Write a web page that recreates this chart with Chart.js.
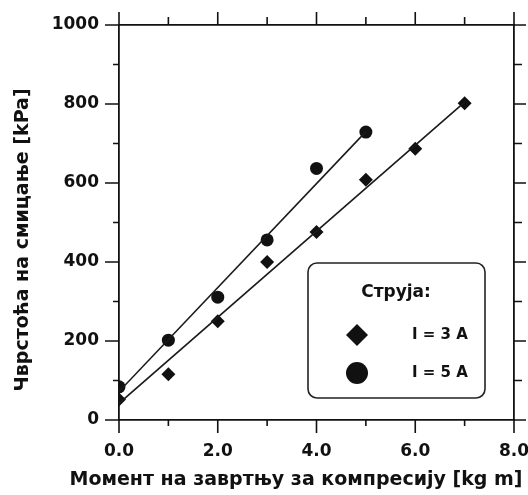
<!DOCTYPE html>
<html>
<head>
<meta charset="utf-8">
<script src="https://cdn.jsdelivr.net/npm/chart.js@4"></script>
<style>
  html, body { margin: 0; padding: 0; background: #fff; }
  #wrap { width: 528px; height: 495px; }
</style>
</head>
<body>
<div id="wrap"><canvas id="chart"></canvas></div>
<script>
// datos
const momento = [0, 1, 2, 3, 4, 5, 6, 7];
const struja3A = [52, 116, 250, 400, 476, 608, 687, 802];
const struja5A = [84, 202, 311, 456, 637, 729];
// rectas de ajuste (extremos)
const ajuste3A = [[0, 42], [7, 805]];
const ajuste5A = [[0, 72], [5, 730]];
const etiquetas = ['I = 3 A', 'I = 5 A'];
const tituloX = 'Момент на завртњу за компресију [kg m]';
const tituloY = 'Чврстоћа на смицање [kPa]';

const negro = '#111';
const fuente = "'DejaVu Sans', Verdana, sans-serif";

const pares = (xs, ys) => ys.map((y, i) => ({ x: xs[i], y: y }));
const linea = (p) => p.map(([x, y]) => ({ x, y }));

// marcas de los ejes (mayores y menores, hacia afuera)
const marcas = {
  id: 'marcas',
  afterDraw(chart) {
    const ctx = chart.ctx;
    const s = chart.scales;
    ctx.save();
    ctx.strokeStyle = negro;
    ctx.lineWidth = 1.6;
    ctx.beginPath();
    for (let v = 0; v <= 8; v += 1) {
      const mayor = v % 2 === 0;
      const px = s.x.getPixelForValue(v);
      ctx.moveTo(px, s.x.top); ctx.lineTo(px, s.x.top + (mayor ? 13 : 6));
      ctx.moveTo(px, s.x2.bottom); ctx.lineTo(px, s.x2.bottom - (mayor ? 13 : 8));
    }
    for (let v = 0; v <= 1000; v += 100) {
      const mayor = v % 200 === 0;
      const py = s.y.getPixelForValue(v);
      ctx.moveTo(s.y.right, py); ctx.lineTo(s.y.right - (mayor ? 14 : 6), py);
      ctx.moveTo(s.y2.left, py); ctx.lineTo(s.y2.left + (mayor ? 12 : 8), py);
    }
    ctx.stroke();
    ctx.restore();
  }
};

// titulos de los ejes
const titulos = {
  id: 'titulos',
  afterDraw(chart) {
    const ctx = chart.ctx;
    const a = chart.chartArea;
    ctx.save();
    ctx.fillStyle = negro;
    ctx.font = 'bold 19px ' + fuente;
    ctx.textAlign = 'center';
    ctx.textBaseline = 'middle';
    ctx.fillText(tituloX, a.left + 177, a.bottom + 60);
    ctx.translate(23, a.top + 215);
    ctx.rotate(-Math.PI / 2);
    ctx.fillText(tituloY, 0, 0);
    ctx.restore();
  }
};

// leyenda con recuadro redondeado
const leyenda = {
  id: 'leyenda',
  afterDraw(chart) {
    const ctx = chart.ctx;
    const a = chart.chartArea;
    const x0 = a.left + 189, y0 = a.top + 238, w = 177, h = 135;
    ctx.save();
    ctx.strokeStyle = '#222';
    ctx.lineWidth = 1.6;
    ctx.beginPath();
    ctx.roundRect(x0, y0, w, h, 9);
    ctx.fillStyle = '#fff';
    ctx.fill();
    ctx.stroke();

    ctx.fillStyle = negro;
    ctx.font = 'bold 17px ' + fuente;
    ctx.textAlign = 'center';
    ctx.textBaseline = 'middle';
    ctx.fillText('Струја:', x0 + 88, y0 + 30);

    const mx = x0 + 49;
    const filas = [y0 + 72, y0 + 110];
    // rombo
    ctx.beginPath();
    ctx.moveTo(mx, filas[0] - 11); ctx.lineTo(mx + 11, filas[0]);
    ctx.lineTo(mx, filas[0] + 11); ctx.lineTo(mx - 11, filas[0]);
    ctx.closePath(); ctx.fill();
    // circulo
    ctx.beginPath();
    ctx.arc(mx, filas[1], 11, 0, Math.PI * 2);
    ctx.fill();

    ctx.textAlign = 'left';
    ctx.font = 'bold 15px ' + fuente;
    ctx.fillText(etiquetas[0], x0 + 104, filas[0]);
    ctx.fillText(etiquetas[1], x0 + 104, filas[1]);
    ctx.restore();
  }
};

// tamaños fijos de los ejes, sin relleno por etiquetas que sobresalen
const fijarAncho = (w) => (s) => { s.width = w; s.paddingTop = 0; s.paddingBottom = 0; };
const fijarAlto = (h) => (s) => { s.height = h; s.paddingLeft = 0; s.paddingRight = 0; };

const ctx = document.getElementById('chart').getContext('2d');
new Chart(ctx, {
  type: 'scatter',
  data: {
    datasets: [
      { label: 'ajuste 3A', data: linea(ajuste3A), showLine: true, pointRadius: 0,
        borderColor: '#1a1a1a', borderWidth: 1.6 },
      { label: 'ajuste 5A', data: linea(ajuste5A), showLine: true, pointRadius: 0,
        borderColor: '#1a1a1a', borderWidth: 1.6 },
      { label: etiquetas[0], data: pares(momento, struja3A), pointStyle: 'rectRot',
        pointRadius: 7, backgroundColor: negro, borderColor: negro, borderWidth: 0 },
      { label: etiquetas[1], data: pares(momento, struja5A), pointStyle: 'circle',
        pointRadius: 6.5, backgroundColor: negro, borderColor: negro, borderWidth: 0 }
    ]
  },
  options: {
    responsive: true,
    maintainAspectRatio: false,
    animation: false,
    layout: { padding: 0 },
    plugins: { legend: { display: false }, tooltip: { enabled: false } },
    scales: {
      x: {
        type: 'linear', position: 'bottom', min: 0, max: 8,
        afterFit: fijarAlto(75),
        grid: { display: false },
        border: { display: true, color: negro, width: 1.8 },
        ticks: { stepSize: 2, padding: 13, color: negro, maxRotation: 0,
          font: { family: fuente, size: 17, weight: 'bold' },
          callback: (v) => v.toFixed(1) }
      },
      x2: {
        type: 'linear', position: 'top', min: 0, max: 8,
        afterFit: fijarAlto(25),
        grid: { display: false },
        border: { display: true, color: negro, width: 1.8 },
        ticks: { display: false }
      },
      y: {
        type: 'linear', position: 'left', min: 0, max: 1000,
        afterFit: fijarAncho(119),
        grid: { display: false },
        border: { display: true, color: negro, width: 1.8 },
        ticks: { stepSize: 200, padding: 12, color: negro,
          font: { family: fuente, size: 17, weight: 'bold' },
          callback: (v) => String(v) }
      },
      y2: {
        type: 'linear', position: 'right', min: 0, max: 1000,
        afterFit: fijarAncho(14),
        grid: { display: false },
        border: { display: true, color: negro, width: 1.8 },
        ticks: { display: false }
      }
    }
  },
  plugins: [marcas, titulos, leyenda]
});
</script>
</body>
</html>
